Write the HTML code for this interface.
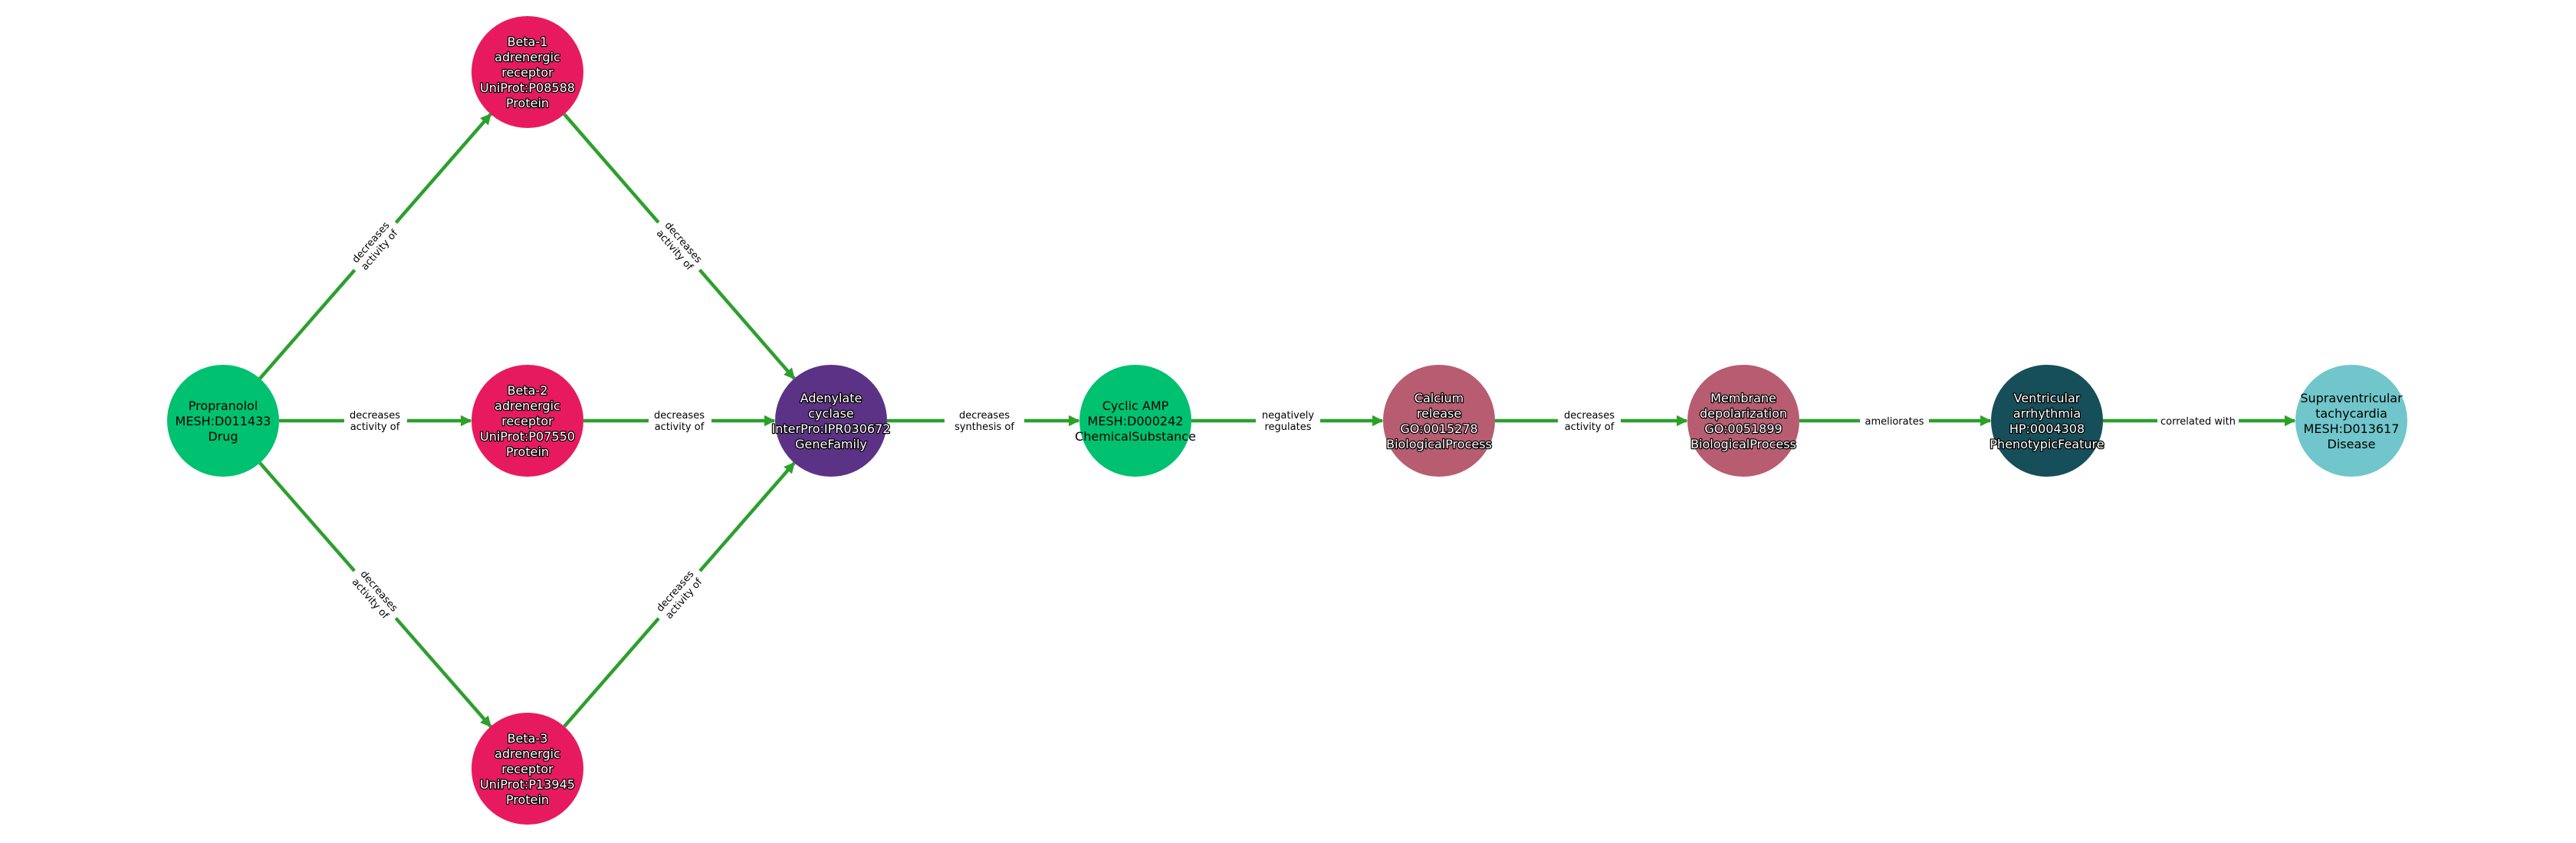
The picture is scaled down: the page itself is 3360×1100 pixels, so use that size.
<!DOCTYPE html>
<html><head><meta charset="utf-8"><style>
html,body{margin:0;padding:0;background:#fff;}
svg{display:block;}
.n{font-family:"DejaVu Sans","Liberation Sans",sans-serif;font-size:16px;text-anchor:middle;}
.w{fill:#fff;stroke:#000;stroke-width:2.5px;paint-order:stroke;stroke-linejoin:round;}
.b{fill:#000;}
.e{font-family:"DejaVu Sans","Liberation Sans",sans-serif;font-size:13px;text-anchor:middle;fill:#000;}
</style></head><body>
<svg width="3360" height="1100" viewBox="0 0 3360 1100" xmlns="http://www.w3.org/2000/svg">
<defs><marker id="a" viewBox="0 0 10 10" refX="9" refY="5" markerWidth="3.2" markerHeight="3.2" orient="auto" markerUnits="strokeWidth"><path d="M0,0 L10,5 L0,10 z" fill="#2ca02c"/></marker></defs>
<g stroke="#2ca02c" stroke-width="4.5" fill="none" marker-end="url(#a)">
<line x1="339" y1="494" x2="640" y2="149"/>
<line x1="364" y1="549" x2="614" y2="549"/>
<line x1="339" y1="604" x2="640" y2="948"/>
<line x1="736" y1="149" x2="1036" y2="494"/>
<line x1="761" y1="549" x2="1010" y2="549"/>
<line x1="736" y1="948" x2="1036" y2="604"/>
<line x1="1157" y1="549" x2="1407" y2="549"/>
<line x1="1554" y1="549" x2="1803" y2="549"/>
<line x1="1950" y1="549" x2="2200" y2="549"/>
<line x1="2347" y1="549" x2="2596" y2="549"/>
<line x1="2743" y1="549" x2="2993" y2="549"/>
</g>
<g fill="#fff">
<rect x="449" y="533" width="82" height="32"/>
<rect x="846" y="533" width="82" height="32"/>
<rect x="1232" y="533" width="104" height="32"/>
<rect x="1638" y="533" width="84" height="32"/>
<rect x="2032" y="533" width="82" height="32"/>
<rect x="2426" y="540" width="90" height="18"/>
<rect x="2814" y="540" width="106" height="18"/>
<rect x="-41" y="-16" width="82" height="32" transform="translate(489,321) rotate(-48.9)"/>
<rect x="-41" y="-16" width="82" height="32" transform="translate(886,321) rotate(48.9)"/>
<rect x="-41" y="-16" width="82" height="32" transform="translate(489,776) rotate(48.9)"/>
<rect x="-41" y="-16" width="82" height="32" transform="translate(886,776) rotate(-48.9)"/>
</g>
<g class="e">
<text x="489" y="546">decreases</text><text x="489" y="561">activity of</text>
<text x="886" y="546">decreases</text><text x="886" y="561">activity of</text>
<text x="1284" y="546">decreases</text><text x="1284" y="561">synthesis of</text>
<text x="1680" y="546">negatively</text><text x="1680" y="561">regulates</text>
<text x="2073" y="546">decreases</text><text x="2073" y="561">activity of</text>
<text x="2471" y="554">ameliorates</text>
<text x="2867" y="554">correlated with</text>
<g transform="translate(489,321) rotate(-48.9)"><text y="-3">decreases</text><text y="12">activity of</text></g>
<g transform="translate(886,321) rotate(48.9)"><text y="-3">decreases</text><text y="12">activity of</text></g>
<g transform="translate(489,776) rotate(48.9)"><text y="-3">decreases</text><text y="12">activity of</text></g>
<g transform="translate(886,776) rotate(-48.9)"><text y="-3">decreases</text><text y="12">activity of</text></g>
</g>
<circle cx="291" cy="549" r="73" fill="#00c170"/>
<circle cx="688" cy="94" r="73" fill="#e71a60"/>
<circle cx="688" cy="549" r="73" fill="#e71a60"/>
<circle cx="688" cy="1003" r="73" fill="#e71a60"/>
<circle cx="1084" cy="549" r="73" fill="#5c3286"/>
<circle cx="1481" cy="549" r="73" fill="#00c170"/>
<circle cx="1877" cy="549" r="73" fill="#b85c71"/>
<circle cx="2274" cy="549" r="73" fill="#b85c71"/>
<circle cx="2670" cy="549" r="73" fill="#164f59"/>
<circle cx="3067" cy="549" r="73" fill="#70c6cb"/>
<g class="n b">
<text x="291" y="535">Propranolol</text><text x="291" y="555">MESH:D011433</text><text x="291" y="575">Drug</text>
<text x="1481" y="535">Cyclic AMP</text><text x="1481" y="555">MESH:D000242</text><text x="1481" y="575">ChemicalSubstance</text>
<text x="3067" y="525">Supraventricular</text><text x="3067" y="545">tachycardia</text><text x="3067" y="565">MESH:D013617</text><text x="3067" y="585">Disease</text>
</g>
<g class="n w">
<text x="688" y="60">Beta-1</text><text x="688" y="80">adrenergic</text><text x="688" y="100">receptor</text><text x="688" y="120">UniProt:P08588</text><text x="688" y="140">Protein</text>
<text x="688" y="515">Beta-2</text><text x="688" y="535">adrenergic</text><text x="688" y="555">receptor</text><text x="688" y="575">UniProt:P07550</text><text x="688" y="595">Protein</text>
<text x="688" y="969">Beta-3</text><text x="688" y="989">adrenergic</text><text x="688" y="1009">receptor</text><text x="688" y="1029">UniProt:P13945</text><text x="688" y="1049">Protein</text>
<text x="1084" y="525">Adenylate</text><text x="1084" y="545">cyclase</text><text x="1084" y="565">InterPro:IPR030672</text><text x="1084" y="585">GeneFamily</text>
<text x="1877" y="525">Calcium</text><text x="1877" y="545">release</text><text x="1877" y="565">GO:0015278</text><text x="1877" y="585">BiologicalProcess</text>
<text x="2274" y="525">Membrane</text><text x="2274" y="545">depolarization</text><text x="2274" y="565">GO:0051899</text><text x="2274" y="585">BiologicalProcess</text>
<text x="2670" y="525">Ventricular</text><text x="2670" y="545">arrhythmia</text><text x="2670" y="565">HP:0004308</text><text x="2670" y="585">PhenotypicFeature</text>
</g>
</svg>
</body></html>
